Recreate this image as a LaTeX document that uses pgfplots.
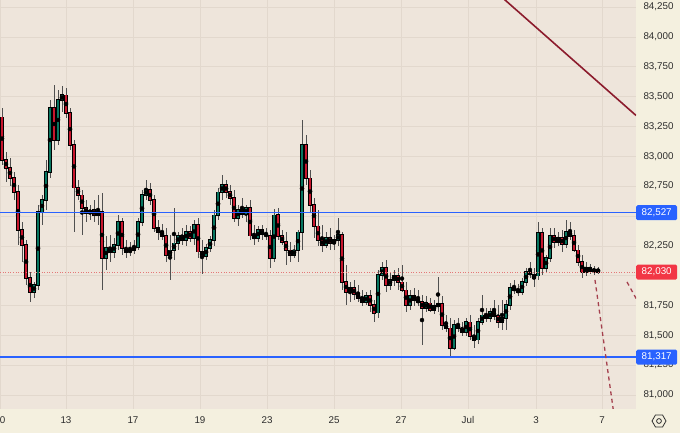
\documentclass[border=0pt]{standalone}
\usepackage{pgfplots}
\pgfplotsset{compat=1.18}
\usepackage{pgfplotstable}
\usepackage{fontspec}
\setmainfont{Liberation Sans}
\usetikzlibrary{shapes.geometric}
\definecolor{plotbg}{RGB}{238,229,219}
\definecolor{panelbg}{RGB}{244,240,223}
\definecolor{gridc}{RGB}{226,216,205}
\definecolor{bull}{RGB}{8,118,96}
\definecolor{bear}{RGB}{200,22,45}
\definecolor{wick}{RGB}{80,80,80}
\definecolor{tvblue}{RGB}{41,98,255}
\definecolor{tvred}{RGB}{242,54,69}
\definecolor{dotred}{RGB}{228,120,120}
\definecolor{maroonl}{RGB}{140,28,45}
\definecolor{dashm}{RGB}{165,65,78}
\definecolor{labelc}{RGB}{45,45,45}

\pgfplotstableread{
x o h l c
2 83329 83405 82927 82969
6 82969 83036 82785 82902
10 82902 82986 82751 82818
14 82818 82869 82634 82701
18 82701 82760 82257 82383
22 82383 82450 82115 82257
26 82257 82299 81922 81981
30 81981 82031 81780 81864
34 81864 81947 81813 81922
38 81922 82592 81880 82534
42 82534 82676 82425 82634
46 82634 82969 82550 82869
50 82869 83472 82818 83405
54 83405 83597 83053 83137
58 83137 83555 83095 83472
62 83472 83589 83371 83513
66 83513 83572 83321 83363
70 83363 83405 83053 83095
74 83095 83137 82366 82735
78 82735 82802 82634 82676
82 82676 82718 82341 82567
86 82567 82634 82450 82525
90 82525 82592 82467 82550
94 82550 82634 82450 82508
98 82508 82676 82425 82534
102 82534 82693 81880 82148
106 82148 82333 82048 82232
110 82232 82341 82115 82199
114 82199 82316 82148 82257
118 82257 82508 82215 82450
122 82450 82483 82173 82232
126 82232 82299 82148 82199
130 82199 82282 82165 82215
134 82215 82299 82182 82240
138 82240 82483 82215 82450
142 82450 82718 82416 82676
146 82676 82802 82634 82718
150 82718 82776 82592 82634
154 82634 82676 82366 82400
158 82400 82467 82299 82366
162 82366 82433 82299 82333
166 82333 82400 82115 82173
170 82173 82341 81964 82215
174 82215 82567 82132 82274
178 82274 82366 82215 82333
182 82333 82400 82257 82299
186 82299 82425 82249 82366
190 82366 82416 82282 82316
194 82316 82467 82257 82425
198 82425 82483 82148 82199
202 82199 82299 82014 82165
206 82165 82266 82132 82232
210 82232 82333 82199 82299
214 82299 82550 82249 82508
218 82508 82735 82467 82701
222 82701 82843 82634 82760
226 82760 82802 82651 82701
230 82701 82760 82592 82651
234 82651 82718 82450 82483
238 82483 82592 82416 82550
242 82550 82651 82483 82517
246 82517 82592 82450 82567
250 82567 82634 82299 82333
254 82333 82425 82257 82316
258 82316 82416 82282 82383
262 82383 82425 82299 82349
266 82349 82400 82299 82333
270 82333 82383 82065 82148
274 82148 82559 82115 82508
278 82508 82567 82299 82333
282 82333 82383 82257 82282
286 82282 82366 82090 82215
290 82215 82282 82115 82173
294 82173 82257 82148 82215
298 82215 82383 82115 82366
302 82366 83304 82215 83095
306 83095 83178 82760 82818
310 82818 82885 82534 82592
314 82592 82651 82316 82416
318 82416 82550 82249 82299
322 82299 82425 82199 82257
326 82257 82366 82232 82316
330 82316 82400 82215 82274
334 82274 82341 82215 82299
338 82299 82483 82249 82341
342 82341 82366 81880 81947
346 81947 82090 81755 81864
350 81864 81947 81780 81897
354 81897 81964 81797 81847
358 81847 81922 81780 81813
362 81813 81880 81746 81780
366 81780 81864 81755 81830
370 81830 81880 81696 81755
374 81755 81797 81612 81688
378 81688 82048 81646 82006
382 82006 82115 81964 82065
386 82065 82132 81864 81922
390 81922 82031 81880 81964
394 81964 82048 81914 81998
398 81998 82065 81880 81947
402 81947 82090 81864 81880
406 81880 81947 81696 81755
410 81755 81880 81713 81830
414 81830 81897 81746 81797
418 81797 81880 81746 81780
422 81780 81838 81420 81730
426 81730 81830 81696 81771
430 81771 81813 81696 81713
434 81713 81797 81679 81746
438 81746 81989 81696 81763
442 81763 81830 81545 81587
446 81587 81671 81529 81562
450 81562 81646 81319 81395
454 81395 81629 81378 81587
458 81587 81646 81529 81562
462 81562 81612 81495 81529
466 81529 81646 81495 81612
470 81612 81671 81462 81495
474 81495 81587 81395 81462
478 81462 81646 81428 81612
482 81612 81838 81587 81671
486 81671 81730 81612 81646
490 81646 81730 81612 81696
494 81696 81797 81629 81663
498 81663 81755 81562 81612
502 81612 81797 81545 81646
506 81646 81797 81545 81755
510 81755 81939 81713 81897
514 81897 81964 81847 81880
518 81880 81931 81830 81864
522 81864 81981 81838 81947
526 81947 82065 81914 82031
530 82031 82115 81981 82014
534 82014 82065 81905 81981
538 81998 82450 81964 82358
542 82358 82400 82006 82065
546 82065 82173 82031 82148
550 82148 82400 82115 82333
554 82333 82400 82232 82282
558 82282 82366 82249 82316
562 82316 82383 82199 82266
566 82266 82467 82232 82366
570 82366 82450 82299 82333
574 82333 82383 82199 82215
578 82215 82257 82081 82115
582 82115 82173 81981 82031
586 82031 82115 81998 82065
590 82065 82098 82014 82039
594 82039 82081 82006 82048
598 82048 82073 82014 82031
}\candles

\begin{document}
\begin{tikzpicture}
\fill[panelbg] (0,-24pt) rectangle (680pt,409pt);
\begin{axis}[
  at={(0,0)}, anchor=south west,
  scale only axis, width=636pt, height=409pt,
  xmin=0, xmax=636, ymin=80883, ymax=84309,
  axis background/.style={fill=plotbg},
  axis line style={draw=none},
  major tick length=0pt,
  xtick={0,66,133,200,267,334,401,468,536,602},
  xticklabels={10,13,17,19,23,25,27,Jul,3,7},
  ytick={81000,81250,81500,81750,82000,82250,82500,82750,83000,83250,83500,83750,84000,84250},
  yticklabels={{81,000},{81,250},{81,500},{81,750},{},{82,250},{},{82,750},{83,000},{83,250},{83,500},{83,750},{84,000},{84,250}},
  scaled y ticks=false,
  yticklabel pos=right,
  grid=major,
  major grid style={draw=gridc, line width=0.6pt},
  tick label style={font=\fontsize{9.8}{11}\selectfont, text=labelc},
  yticklabel style={anchor=west, xshift=4pt},
  xticklabel style={yshift=-4pt},
  clip mode=individual,
]
% wicks
\addplot[only marks, mark=none, forget plot,
  error bars/.cd, y dir=both, y explicit, error mark=none,
  error bar style={line width=0.9pt, draw=wick, solid}]
  table[x=x, y expr={(\thisrow{h}+\thisrow{l})/2}, y error expr={(\thisrow{h}-\thisrow{l})/2}] {\candles};
% body outlines
\addplot[only marks, mark=none, forget plot,
  error bars/.cd, y dir=both, y explicit, error mark=none,
  error bar style={line width=3.2pt, draw=black, solid}]
  table[x=x, y expr={(\thisrow{o}+\thisrow{c})/2}, y error expr={abs(\thisrow{c}-\thisrow{o})/2+5}] {\candles};
% bullish bodies
\addplot[only marks, mark=none, forget plot,
  restrict expr to domain={\thisrow{c}-\thisrow{o}}{0.5:100000},
  error bars/.cd, y dir=both, y explicit, error mark=none,
  error bar style={line width=1.9pt, draw=bull, solid}]
  table[x=x, y expr={(\thisrow{o}+\thisrow{c})/2}, y error expr={abs(\thisrow{c}-\thisrow{o})/2}] {\candles};
% bearish bodies
\addplot[only marks, mark=none, forget plot,
  restrict expr to domain={\thisrow{o}-\thisrow{c}}{0.5:100000},
  error bars/.cd, y dir=both, y explicit, error mark=none,
  error bar style={line width=1.9pt, draw=bear, solid}]
  table[x=x, y expr={(\thisrow{o}+\thisrow{c})/2}, y error expr={abs(\thisrow{c}-\thisrow{o})/2}] {\candles};
% levels
\addplot[tvblue, line width=1.5pt, forget plot] coordinates {(0,82527) (636,82527)};
\addplot[tvblue, line width=1.5pt, forget plot] coordinates {(0,81317) (636,81317)};
\addplot[dotred, line width=0.8pt, dash pattern=on 1pt off 1.6pt, forget plot] coordinates {(0,82030) (636,82030)};
% trend and projections
\addplot[maroonl, line width=1.6pt, forget plot] coordinates {(500,84346) (636,83342)};
\addplot[dashm, line width=1.3pt, dash pattern=on 4pt off 3.5pt, forget plot] coordinates {(595,81964) (614,80834)};
\addplot[dashm, line width=1.3pt, dash pattern=on 4pt off 3.5pt, forget plot] coordinates {(627,81947) (638,81780)};
\coordinate (bA) at (axis cs:636,82527);
\coordinate (bB) at (axis cs:636,82030);
\coordinate (bC) at (axis cs:636,81317);
\end{axis}
\begin{scope}[every node/.style={text=white, font=\fontsize{9.8}{11}\selectfont, minimum width=41pt, minimum height=15pt, inner sep=0pt, anchor=west, rounded corners=1.5pt}]
\node[fill=tvblue] at (bA) {82,527};
\node[fill=tvred] at (bB) {82,030};
\node[fill=tvblue] at (bC) {81,317};
\end{scope}
\node[regular polygon, regular polygon sides=6, draw=labelc, line width=0.8pt, minimum size=14pt, inner sep=0pt] at (659pt,-12pt) {};
\draw[labelc, line width=0.8pt] (659pt,-12pt) circle (2.4pt);
\pgfresetboundingbox
\useasboundingbox (0,-24pt) rectangle (680pt,409pt);
\end{tikzpicture}
\end{document}
